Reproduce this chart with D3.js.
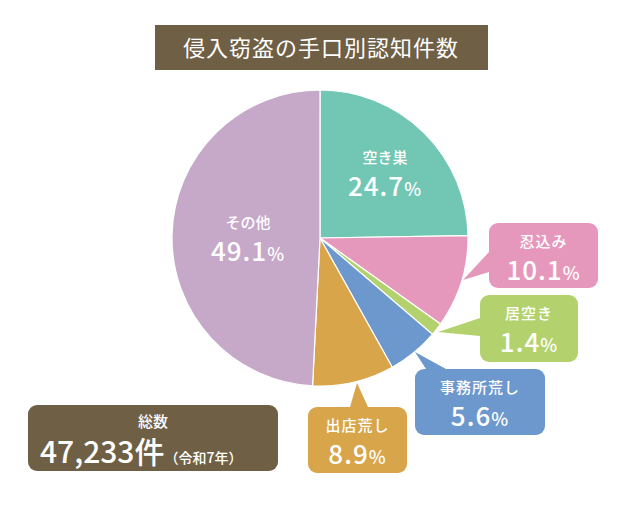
<!DOCTYPE html>
<html><head><meta charset="utf-8">
<script src="https://cdn.jsdelivr.net/npm/d3@7"></script>
<style>body{margin:0;background:#fff}</style></head>
<body><svg id="c" width="640" height="510"></svg>
<script>
const categories = ["空き巣","忍込み","居空き","事務所荒し","出店荒し","その他"];
const values = [24.7,10.1,1.4,5.6,8.9,49.1];
const colors = ["#72c6b4","#e698bc","#b3d26e","#6c98cd","#d8a54a","#c6a9c9"];
const titleText = "侵入窃盗の手口別認知件数";
const totalLabel = "総数";
const totalValue = "47,233件";
const totalNote = "（令和7年）";

const svg = d3.select("#c");
const font = "'Noto Sans CJK JP','Noto Sans',sans-serif";
const cx = 320, cy = 238, r = 148;

svg.append("rect").attr("x",155).attr("y",25).attr("width",333).attr("height",45).attr("fill","#6f5f45");
svg.append("text").attr("x",321).attr("y",56).attr("text-anchor","middle").attr("fill","#fff")
  .attr("font-family",font).attr("font-size",22).attr("letter-spacing",1).text(titleText);

const pie = d3.pie().sort(null).value(d=>d)(values);
const arc = d3.arc().innerRadius(0).outerRadius(r);
const g = svg.append("g").attr("transform",`translate(${cx},${cy})`);
g.selectAll("path").data(pie).join("path").attr("d",arc)
  .attr("fill",(d,i)=>colors[i]).attr("stroke","#fff").attr("stroke-width",1.2);

function valueText(x,y){
  const t = svg.append("text").attr("x",x).attr("y",y).attr("text-anchor","middle").attr("fill","#fff")
    .attr("font-family",font).attr("font-size",26).attr("font-weight",500).attr("letter-spacing",1);
  return t;
}
const inside = [{i:0,x:385,y:163},{i:5,x:248,y:228}];
inside.forEach(o=>{
  svg.append("text").attr("x",o.x).attr("y",o.y).attr("text-anchor","middle").attr("fill","#fff")
    .attr("font-family",font).attr("font-size",15).attr("font-weight",500).text(categories[o.i]);
  const t = valueText(o.x,o.y+33);
  t.append("tspan").text(values[o.i].toFixed(1));
  t.append("tspan").attr("font-size",18).text("%");
});

const callouts = [
  {i:1,x:489,y:223,w:109,h:65,tip:[463,280],b:[[489,252],[489,272]]},
  {i:2,x:480,y:295,w:98,h:67,tip:[438,332],b:[[480,318],[480,336]]},
  {i:3,x:415,y:369,w:130,h:66,tip:[415,352],b:[[426,369],[446,369]]},
  {i:4,x:308,y:407,w:99,h:66,tip:[357,383],b:[[350,407],[368,407]]}
];
callouts.forEach(o=>{
  svg.append("rect").attr("x",o.x).attr("y",o.y).attr("width",o.w).attr("height",o.h)
    .attr("rx",9).attr("fill",colors[o.i]);
  svg.append("path").attr("d",`M${o.b[0][0]},${o.b[0][1]}L${o.tip[0]},${o.tip[1]}L${o.b[1][0]},${o.b[1][1]}Z`)
    .attr("fill",colors[o.i]);
  const mx = o.x+o.w/2;
  svg.append("text").attr("x",mx).attr("y",o.y+24).attr("text-anchor","middle").attr("fill","#fff")
    .attr("font-family",font).attr("font-size",15).attr("font-weight",500).attr("letter-spacing",1).text(categories[o.i]);
  const t = valueText(mx,o.y+57);
  t.append("tspan").text(values[o.i].toFixed(1));
  t.append("tspan").attr("font-size",18).text("%");
});

svg.append("rect").attr("x",28).attr("y",405).attr("width",250).attr("height",66).attr("rx",9).attr("fill","#6f5f45");
svg.append("text").attr("x",153).attr("y",427).attr("text-anchor","middle").attr("fill","#fff")
  .attr("font-family",font).attr("font-size",15).attr("font-weight",500).text(totalLabel);
const tt = svg.append("text").attr("x",40).attr("y",463).attr("fill","#fff").attr("font-family",font)
  .attr("font-size",30).attr("font-weight",500);
tt.append("tspan").text(totalValue);
tt.append("tspan").attr("font-size",14).text(totalNote);
</script></body></html>
